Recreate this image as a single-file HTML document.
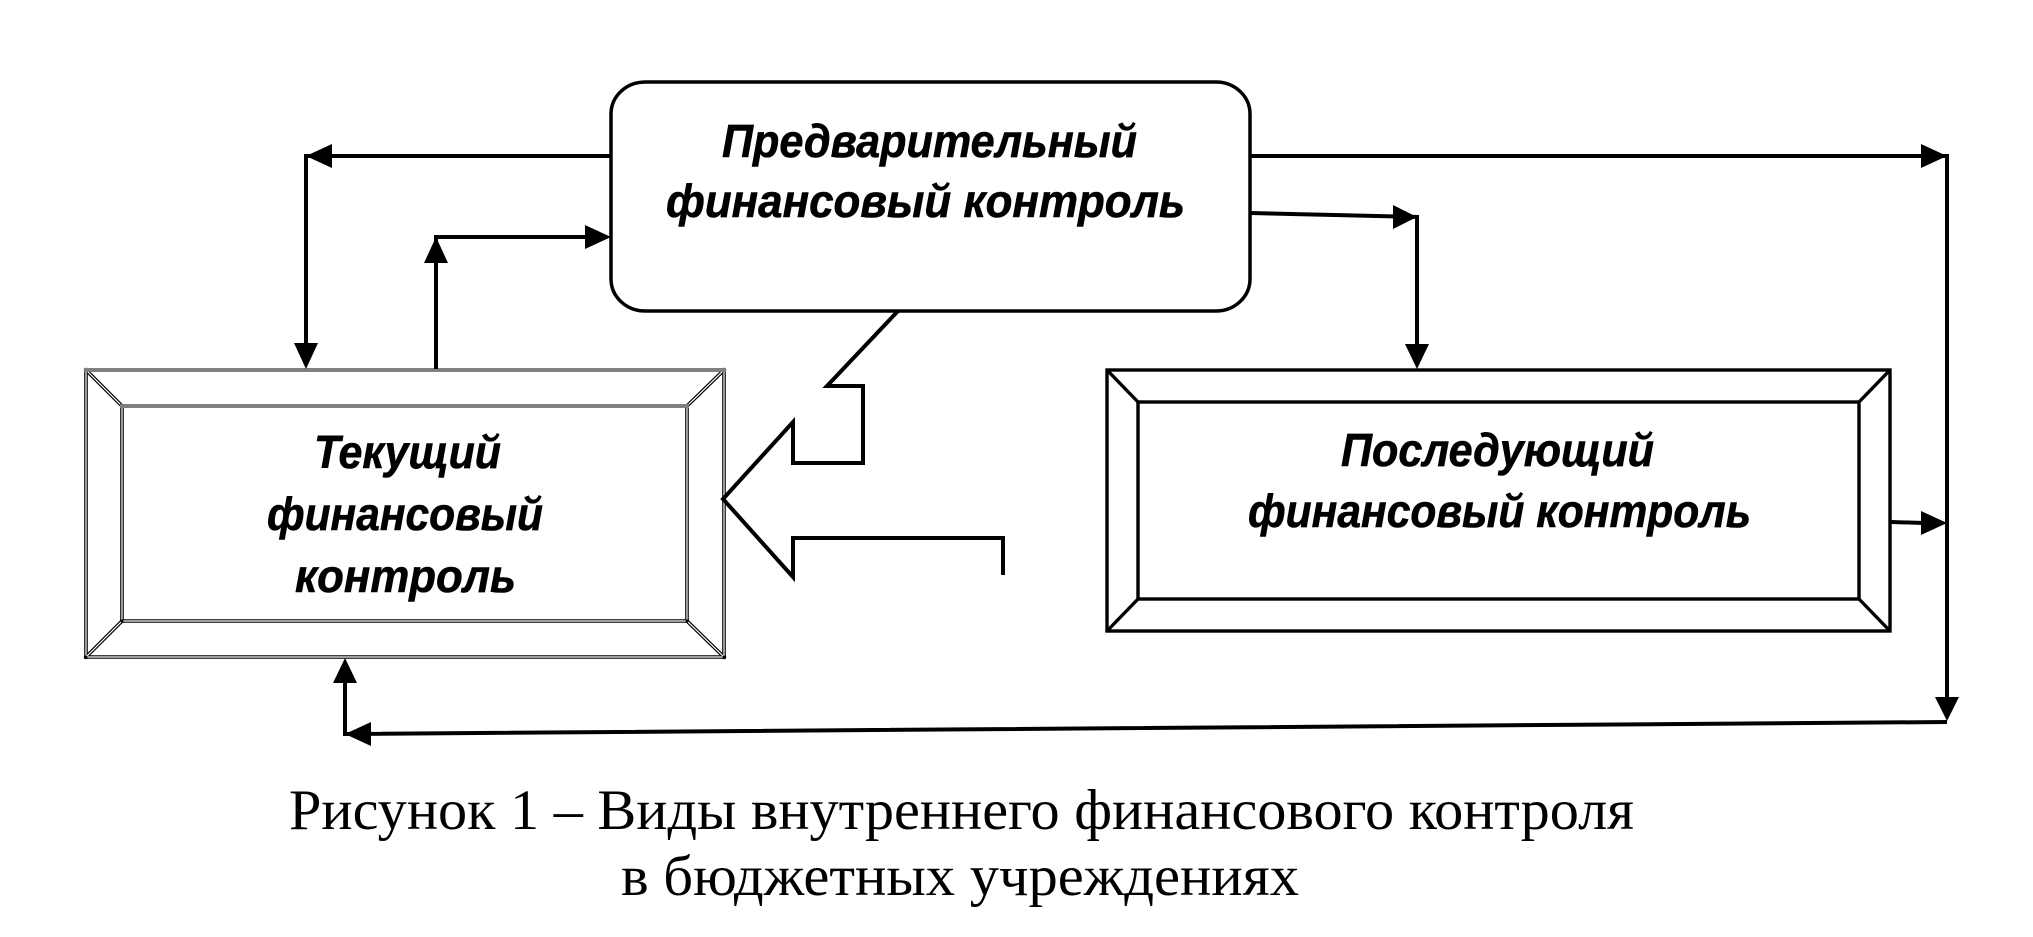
<!DOCTYPE html>
<html>
<head>
<meta charset="utf-8">
<style>
  html, body { margin: 0; padding: 0; background: #ffffff; }
  body { width: 2033px; height: 937px; overflow: hidden; }
  svg { display: block; }
  .lbl { font-family: "Liberation Sans", "DejaVu Sans", sans-serif; font-weight: bold; font-style: italic; font-size: 46px; fill: #000; stroke: #000; stroke-width: 0.6px; }
  .cap { font-family: "Liberation Serif", "DejaVu Serif", serif; font-size: 57px; fill: #000; }
</style>
</head>
<body>
<svg width="2033" height="937" viewBox="0 0 2033 937" xmlns="http://www.w3.org/2000/svg">
  <rect x="0" y="0" width="2033" height="937" fill="#fff"/>

  <!-- Rounded box: Предварительный финансовый контроль -->
  <rect x="611" y="82" width="639" height="229" rx="34" ry="32" fill="#fff" stroke="#000" stroke-width="3.5"/>
  <text class="lbl" x="722" y="157" textLength="415" lengthAdjust="spacingAndGlyphs">Предварительный</text>
  <text class="lbl" x="666" y="217" textLength="519" lengthAdjust="spacingAndGlyphs">финансовый контроль</text>

  <!-- Left framed box (Текущий) : double thin lines, gray tops -->
  <g fill="none" stroke-linecap="square">
    <g stroke="#000" stroke-width="3.6">
      <line x1="86" y1="370" x2="86" y2="657"/>
      <line x1="724" y1="370" x2="724" y2="657"/>
      <line x1="122" y1="406" x2="122" y2="621"/>
      <line x1="687" y1="406" x2="687" y2="621"/>
      <line x1="86" y1="657" x2="724" y2="657"/>
      <line x1="122" y1="621" x2="687" y2="621"/>
      <line x1="86" y1="370" x2="122" y2="406"/>
      <line x1="724" y1="370" x2="687" y2="406"/>
      <line x1="86" y1="657" x2="122" y2="621"/>
      <line x1="724" y1="657" x2="687" y2="621"/>
    </g>
    <g stroke="#fff" stroke-width="1.2">
      <line x1="86" y1="372" x2="86" y2="655"/>
      <line x1="724" y1="372" x2="724" y2="655"/>
      <line x1="122" y1="408" x2="122" y2="619"/>
      <line x1="687" y1="408" x2="687" y2="619"/>
      <line x1="88" y1="657" x2="722" y2="657"/>
      <line x1="124" y1="621" x2="685" y2="621"/>
      <line x1="87.5" y1="371.5" x2="120.5" y2="404.5"/>
      <line x1="722.5" y1="371.5" x2="688.5" y2="404.5"/>
      <line x1="87.5" y1="655.5" x2="120.5" y2="622.5"/>
      <line x1="722.5" y1="655.5" x2="688.5" y2="622.5"/>
    </g>
    <g stroke="#808080" stroke-width="4">
      <line x1="86" y1="370" x2="724" y2="370"/>
      <line x1="122" y1="406" x2="687" y2="406"/>
    </g>
  </g>
  <text class="lbl" x="314" y="468" textLength="187" lengthAdjust="spacingAndGlyphs">Текущий</text>
  <text class="lbl" x="267" y="530" textLength="276" lengthAdjust="spacingAndGlyphs">финансовый</text>
  <text class="lbl" x="295" y="592" textLength="221" lengthAdjust="spacingAndGlyphs">контроль</text>

  <!-- Right framed box (Последующий) -->
  <g fill="none" stroke="#000" stroke-width="3.4">
    <rect x="1107" y="370" width="783" height="261"/>
    <rect x="1138" y="402" width="721" height="197"/>
    <line x1="1107" y1="370" x2="1138" y2="402"/>
    <line x1="1890" y1="370" x2="1859" y2="402"/>
    <line x1="1107" y1="631" x2="1138" y2="599"/>
    <line x1="1890" y1="631" x2="1859" y2="599"/>
  </g>
  <text class="lbl" x="1341" y="466" textLength="313" lengthAdjust="spacingAndGlyphs">Последующий</text>
  <text class="lbl" x="1248" y="527" textLength="503" lengthAdjust="spacingAndGlyphs">финансовый контроль</text>

  <!-- Connectors -->
  <g stroke="#000" stroke-width="4" fill="none">
    <polyline points="611,156 306,156 306,346"/>
    <polyline points="436,369 436,237 588,237"/>
    <polyline points="1250,156 1947,156 1947,700"/>
    <polyline points="1250,213 1417,217 1417,346"/>
    <line x1="1891" y1="522" x2="1924" y2="523"/>
    <polyline points="1947,722 345,734 345,682"/>
    <polyline points="898,311 827,386 863,386 863,463 793,463 793,422 723,499 793,577 793,538 1003,538 1003,575" stroke-linejoin="miter"/>
  </g>

  <!-- Arrowheads -->
  <g fill="#000" stroke="none">
    <polygon points="306,156 332,144 332,168"/>
    <polygon points="306,369 294,343 318,343"/>
    <polygon points="436,237 424,263 448,263"/>
    <polygon points="611,237 585,225 585,249"/>
    <polygon points="1947,156 1921,144 1921,168"/>
    <polygon points="1947,721 1935,697 1959,697"/>
    <polygon points="1417,217 1393,205 1393,229"/>
    <polygon points="1417,369 1405,344 1429,344"/>
    <polygon points="1947,523 1921,511 1921,535"/>
    <polygon points="345,734 371,722 371,746"/>
    <polygon points="345,658 333,683 357,683"/>
  </g>

  <!-- Caption -->
  <text class="cap" x="289" y="829" textLength="1345" lengthAdjust="spacingAndGlyphs">Рисунок 1 – Виды внутреннего финансового контроля</text>
  <text class="cap" x="621" y="895" textLength="678" lengthAdjust="spacingAndGlyphs">в бюджетных учреждениях</text>
</svg>
</body>
</html>
